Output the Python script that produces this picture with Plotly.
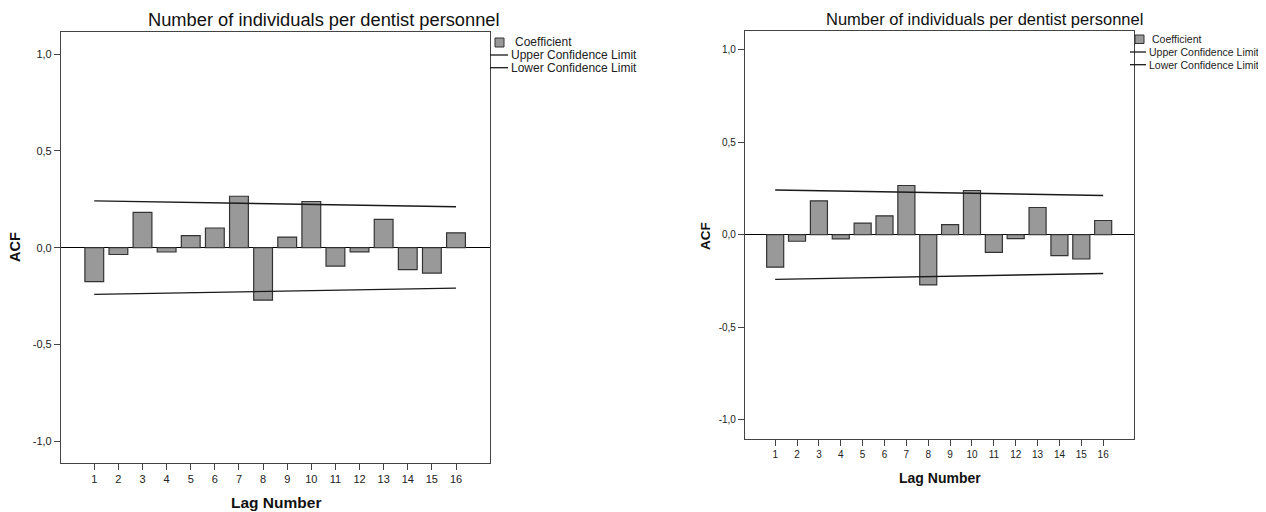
import plotly.graph_objects as go

# ---- data ----
lags = list(range(1, 17))
acf_coef = [-0.175, -0.035, 0.183, -0.022, 0.063, 0.102, 0.266, -0.271,
            0.055, 0.239, -0.095, -0.021, 0.147, -0.113, -0.131, 0.077]
upper_limit = [0.242, 0.240, 0.238, 0.236, 0.234, 0.232, 0.230, 0.228,
               0.226, 0.224, 0.222, 0.220, 0.218, 0.216, 0.214, 0.212]
lower_limit = [-0.241, -0.239, -0.237, -0.235, -0.233, -0.231, -0.229, -0.227,
               -0.225, -0.223, -0.221, -0.219, -0.217, -0.215, -0.212, -0.209]
y_tick_vals = [-1.0, -0.5, 0.0, 0.5, 1.0]
y_tick_text = ["-1,0", "-0,5", "0,0", "0,5", "1,0"]
title_text = "Number of individuals per dentist personnel"
legend_names = ["Coefficient", "Upper Confidence Limit", "Lower Confidence Limit"]

# the page body has an 8px margin, so the figure is drawn 8px in from the top-left
OFF = 8
W, H = 1266 - OFF, 512 - OFF
FONT = "Liberation Sans, Arial, sans-serif"
BAR_FILL = "#999999"
BAR_LINE = "#333333"
FRAME = "#444444"


def px(x):
    return (x - OFF) / W


def py(y):
    return 1 - (y - OFF) / H


fig = go.Figure()

panels = [
    dict(xa="x", ya="y", xd=[px(61), px(490)], yd=[py(462.5), py(32)], yr=[-1.11, 1.115],
         tick_fs=11),
    dict(xa="x2", ya="y2", xd=[px(745), px(1134)], yd=[py(438.5), py(31)], yr=[-1.10, 1.10],
         tick_fs=10),
]

for i, p in enumerate(panels):
    fig.add_trace(go.Bar(
        x=lags, y=acf_coef, width=0.78, name=legend_names[0],
        marker=dict(color=BAR_FILL, line=dict(color=BAR_LINE, width=1.2)),
        xaxis=p["xa"], yaxis=p["ya"], showlegend=False,
    ))
    fig.add_trace(go.Scatter(
        x=lags, y=upper_limit, mode="lines", name=legend_names[1],
        line=dict(color="#1a1a1a", width=1.4),
        xaxis=p["xa"], yaxis=p["ya"], showlegend=False,
    ))
    fig.add_trace(go.Scatter(
        x=lags, y=lower_limit, mode="lines", name=legend_names[2],
        line=dict(color="#1a1a1a", width=1.4),
        xaxis=p["xa"], yaxis=p["ya"], showlegend=False,
    ))

common_x = dict(range=[-0.38, 17.41], tickmode="array", tickvals=lags,
                ticktext=[str(v) for v in lags], ticks="outside", ticklen=6,
                tickwidth=1, tickcolor=FRAME, showgrid=False, zeroline=False,
                showline=True, linecolor=FRAME, linewidth=1.2, mirror=True,
                fixedrange=True)
common_y = dict(tickmode="array", tickvals=y_tick_vals, ticktext=y_tick_text,
                ticks="outside", ticklen=6, tickwidth=1, tickcolor=FRAME,
                showgrid=False, zeroline=True, zerolinecolor="#000000",
                zerolinewidth=1.4, showline=True, linecolor=FRAME, linewidth=1.2,
                mirror=True, fixedrange=True)

layout_axes = {}
for i, p in enumerate(panels):
    suffix = "" if i == 0 else "2"
    xa = dict(common_x, domain=p["xd"], anchor="y" + suffix,
              tickfont=dict(family=FONT, size=p["tick_fs"], color="#222222"))
    ya = dict(common_y, domain=p["yd"], range=p["yr"], anchor="x" + suffix,
              tickfont=dict(family=FONT, size=p["tick_fs"], color="#222222"))
    layout_axes["xaxis" + suffix] = xa
    layout_axes["yaxis" + suffix] = ya

annotations = []
shapes = []

# titles and axis titles
for (cx, cy, fs) in [(323.5, 19.5, 18.3), (984, 18.5, 16.5)]:
    annotations.append(dict(x=px(cx), y=py(cy), xref="paper", yref="paper",
                            text=title_text, showarrow=False,
                            font=dict(family=FONT, size=fs, color="#111111"),
                            xanchor="center", yanchor="middle"))
for (cx, cy, fs) in [(15, 247, 14.5), (706, 236, 13.5)]:
    annotations.append(dict(x=px(cx), y=py(cy), xref="paper", yref="paper",
                            text="<b>ACF</b>", showarrow=False, textangle=-90,
                            font=dict(family=FONT, size=fs, color="#111111"),
                            xanchor="center", yanchor="middle"))
for (cx, cy, fs) in [(276, 502, 15.5), (940, 478, 14)]:
    annotations.append(dict(x=px(cx), y=py(cy), xref="paper", yref="paper",
                            text="<b>Lag Number</b>", showarrow=False,
                            font=dict(family=FONT, size=fs, color="#111111"),
                            xanchor="center", yanchor="middle"))

# legends (drawn manually to match the compact SPSS legend)
legend_specs = [
    dict(sq=(495, 38, 504, 47), txt_x=[513, 509, 509], txt_y=[42.3, 55, 67.7],
         line_x=(490, 508), fs=12),
    dict(sq=(1135, 35, 1144, 43.5), txt_x=[1150, 1147, 1147], txt_y=[39, 52, 64.7],
         line_x=(1130, 1146), fs=10.5),
]
for spec in legend_specs:
    x0, y0, x1, y1 = spec["sq"]
    shapes.append(dict(type="rect", xref="paper", yref="paper",
                       x0=px(x0), x1=px(x1), y0=py(y1), y1=py(y0),
                       fillcolor=BAR_FILL, line=dict(color=BAR_LINE, width=1)))
    for k in (1, 2):
        shapes.append(dict(type="line", xref="paper", yref="paper",
                           x0=px(spec["line_x"][0]), x1=px(spec["line_x"][1]),
                           y0=py(spec["txt_y"][k]), y1=py(spec["txt_y"][k]),
                           line=dict(color="#1a1a1a", width=1.3)))
    for k in range(3):
        annotations.append(dict(x=px(spec["txt_x"][k]), y=py(spec["txt_y"][k]),
                                xref="paper", yref="paper", text=legend_names[k],
                                showarrow=False, xanchor="left", yanchor="middle",
                                font=dict(family=FONT, size=spec["fs"], color="#222222")))

fig.update_layout(
    width=W, height=H,
    margin=dict(l=0, r=0, t=0, b=0),
    paper_bgcolor="white", plot_bgcolor="white",
    showlegend=False, barmode="overlay",
    annotations=annotations, shapes=shapes,
    **layout_axes,
)

fig.write_html("out.html")
